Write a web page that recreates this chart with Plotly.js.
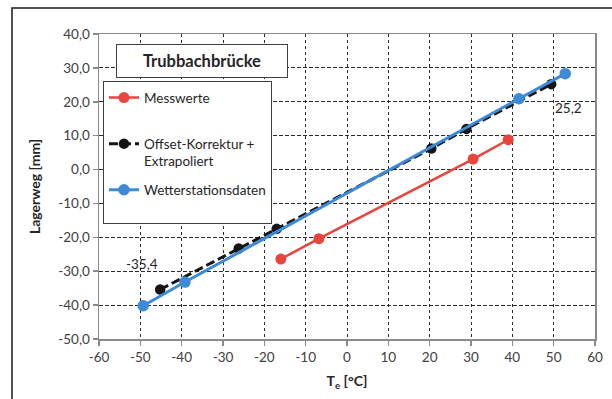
<!DOCTYPE html>
<html>
<head>
<meta charset="utf-8">
<script src="https://cdn.plot.ly/plotly-3.0.1.min.js"></script>
<style>
  html, body { margin: 0; padding: 0; background: #ffffff; }
  #chart { width: 612px; height: 399px; }
</style>
</head>
<body>
<div id="chart"></div>
<script>
// Bearing displacement vs. air temperature, Trubbachbrücke
const seriesNames = ['Messwerte', 'Offset-Korrektur +<br>Extrapoliert', 'Wetterstationsdaten'];

// Messwerte
const tempMess = [-16.0, -6.8, 30.5, 39.0];
const wegMess = [-26.4, -20.4, 3.1, 8.8];

// Offset-Korrektur + Extrapoliert
const tempOffset = [-45.2, -26.2, -17.0, 20.4, 28.9, 49.4];
const wegOffset = [-35.4, -23.3, -17.5, 6.2, 12.0, 25.2];

// Wetterstationsdaten
const tempWetter = [-49.3, -39.2, 41.6, 52.8];
const wegWetter = [-40.2, -33.2, 20.9, 28.3];

// Axis ticks
const xTickVals = [-60, -50, -40, -30, -20, -10, 0, 10, 20, 30, 40, 50, 60];
const xTickText = ['-60', '-50', '-40', '-30', '-20', '-10', '0', '10', '20', '30', '40', '50', '60'];
const yTickVals = [-50, -40, -30, -20, -10, 0, 10, 20, 30, 40];
const yTickText = ['-50,0', '-40,0', '-30,0', '-20,0', '-10,0', '0,0', '10,0', '20,0', '30,0', '40,0'];

const FONT = 'Lato, "Open Sans", sans-serif';
const fmt = v => v.toFixed(1).replace('.', ',');

const traces = [
  {
    x: tempMess, y: wegMess, name: seriesNames[0] + '<br>\u00a0', legendgroup: 'g1',
    type: 'scatter', mode: 'lines+markers',
    line: { color: '#E8453C', width: 2.5 },
    marker: { color: '#E8453C', size: 11 }
  },
  {
    x: tempOffset, y: wegOffset, name: seriesNames[1], legendgroup: 'g2',
    type: 'scatter', mode: 'lines+markers',
    line: { color: '#151515', width: 3, dash: '9px,4px' },
    marker: { color: '#151515', size: 10.5 }
  },
  {
    x: tempWetter, y: wegWetter, name: seriesNames[2] + '<br>\u00a0', legendgroup: 'g3',
    type: 'scatter', mode: 'lines+markers',
    line: { color: '#3C8AD8', width: 3 },
    marker: { color: '#3C8AD8', size: 11.5 }
  }
];

// value labels at both ends of the extrapolated series
const iFirst = 0, iLast = tempOffset.length - 1;
const valueLabels = [
  { x: tempOffset[iFirst], y: wegOffset[iFirst], text: fmt(wegOffset[iFirst]), xshift: -18, yshift: 26 },
  { x: tempOffset[iLast], y: wegOffset[iLast], text: fmt(wegOffset[iLast]), xshift: 17, yshift: -24 }
].map(a => Object.assign({
  xref: 'x', yref: 'y', showarrow: false,
  font: { family: FONT, size: 13.5, color: '#262626' }
}, a));

const layout = {
  width: 612, height: 399,
  margin: { l: 99, r: 17, t: 34, b: 60 },
  paper_bgcolor: '#ffffff',
  plot_bgcolor: '#ffffff',
  showlegend: true,
  font: { family: FONT, size: 13, color: '#404040' },
  xaxis: {
    range: [-60, 60],
    tickvals: xTickVals, ticktext: xTickText,
    showgrid: true, gridcolor: '#2b2b2b', gridwidth: 1, griddash: '3px,3px',
    zeroline: false,
    showline: true, linecolor: '#8a8a8a', linewidth: 1.5, mirror: true,
    ticks: 'outside', ticklen: 5, tickcolor: '#8a8a8a', tickwidth: 1.5,
    tickfont: { family: FONT, size: 13.5, color: '#404040' },
    title: { text: '<b>T<sub>e</sub> [°C]</b>', font: { family: FONT, size: 14, color: '#262626' }, standoff: 12 }
  },
  yaxis: {
    range: [-50, 40],
    tickvals: yTickVals, ticktext: yTickText,
    showgrid: true, gridcolor: '#2b2b2b', gridwidth: 1, griddash: '4px,2px',
    zeroline: false,
    showline: true, linecolor: '#8a8a8a', linewidth: 1.5, mirror: true,
    ticks: 'outside', ticklen: 5, tickcolor: '#8a8a8a', tickwidth: 1.5,
    tickfont: { family: FONT, size: 13.5, color: '#404040' },
    title: { text: '<b>Lagerweg [mm]</b>', font: { family: FONT, size: 14, color: '#262626' }, standoff: 14 }
  },
  legend: {
    x: 0.008, y: 0.845, xanchor: 'left', yanchor: 'top',
    bgcolor: '#ffffff', bordercolor: '#404040', borderwidth: 1,
    valign: 'top', traceorder: 'grouped', tracegroupgap: 8,
    font: { family: FONT, size: 13.5, color: '#262626' }
  },
  annotations: [
    {
      xref: 'paper', yref: 'paper', x: 0.208, y: 0.9125,
      xanchor: 'center', yanchor: 'middle',
      text: '<b>Trubbachbrücke</b>', showarrow: false,
      width: 168, height: 30, align: 'center', valign: 'middle',
      bgcolor: '#ffffff', bordercolor: '#404040', borderwidth: 1, borderpad: 1,
      font: { family: FONT, size: 16.5, color: '#262626' }
    }
  ].concat(valueLabels),
  shapes: [
    // outer frame of the figure
    {
      type: 'rect', xref: 'paper', yref: 'paper',
      x0: -0.1754, x1: 1.2, y0: -0.5, y1: 1.0852,
      line: { color: '#1a1a1a', width: 1.5 }, fillcolor: 'rgba(0,0,0,0)', layer: 'below'
    }
  ]
};

Plotly.newPlot('chart', traces, layout, { displayModeBar: false, staticPlot: true });
</script>
</body>
</html>
